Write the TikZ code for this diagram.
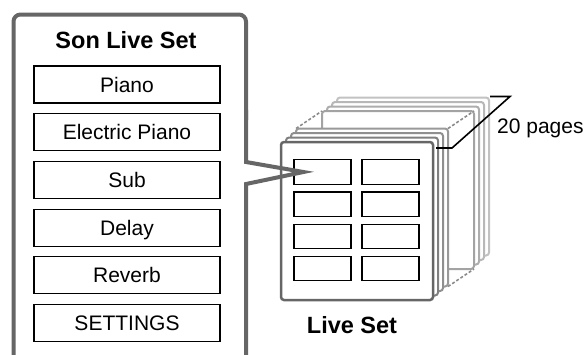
\documentclass[tikz,border=0pt]{standalone}
\usepackage{fontspec}
\setmainfont{Liberation Sans}
\usetikzlibrary{calc}
\definecolor{panelgray}{HTML}{666666}
\begin{document}
\begin{tikzpicture}[x=1pt,y=-1pt,
  panel/.style={draw=panelgray, line width=4pt},
  item/.style={draw=black, line width=1.2pt, minimum width=186pt, minimum height=37pt,
    inner sep=0pt, font=\fontsize{21}{25}\selectfont, text height=15pt, text depth=0pt},
  slot/.style={draw=black, line width=1.2pt, minimum width=57pt, minimum height=24.5pt, inner sep=0pt},
  page/.style={fill=white, line width=2pt, rounded corners=3pt},
  titletext/.style={font=\fontsize{23.5}{28}\selectfont\bfseries, inner sep=0pt},
  labeltext/.style={font=\fontsize{21}{25}\selectfont, inner sep=0pt},
  leader/.style={draw=black, line width=1.6pt},
  gap/.style={draw=black!45, line width=1.6pt, dash pattern=on 3pt off 2pt}]
\useasboundingbox (0,0) rectangle (585,354);

% ---- left panel: Son Live Set ----
\node[titletext, anchor=base] (title) at (126,48.3) {Son Live Set};
\foreach \t [count=\i from 0] in {Piano,Electric Piano,Sub,Delay,Reverb,SETTINGS}{
  \node[item] (item\i) at (127,84.5+47.7*\i) {\t};
}

% ---- Live Set stack ----
% back group
\foreach \dx/\dy/\c in {56/-44.5/24,51/-40/28,46/-35.5/32,41/-31/36}{
  \draw[page, draw=black!\c] (281+\dx,142+\dy) rectangle (433+\dx,300+\dy);
}
\draw[gap] (296,128.5) -- (322,111);
\draw[gap] (448,128.5) -- (474,111);
\draw[gap] (448,286.5) -- (474,269);
% front group
\foreach \dx/\dy/\c in {15/-13.5/40,10/-9/44,5/-4.5/50}{
  \draw[page, draw=black!\c] (281+\dx,142+\dy) rectangle (433+\dx,300+\dy);
}
\draw[page, draw=panelgray, line width=2.5pt] (281,142) rectangle (433,300);

\foreach \r in {0,1,2,3}{
  \node[slot] (a\r) at (322.5,172+32.2*\r) {};
  \node[slot] (b\r) at (390.5,172+32.2*\r) {};
}
\node[titletext, anchor=base] (liveset) at (352,333) {Live Set};

% ---- 20 pages leader ----
\node[labeltext, anchor=base west] (pages) at (497,133) {20 pages};
\coordinate (l0) at (436,148);
\coordinate (l1) at (452,148);
\coordinate (l2) at (510,96.5);
\coordinate (l3) at (490,96.5);
\draw[leader] (l0) -- (l1) -- (l2) -- (l3);

% ---- panel border with callout wedge ----
\coordinate (tip) at ($(a0.west)+(10,0)$);
\draw[panel, rounded corners=7pt] (13.5,364) -- (13.5,14.5) -- (246,14.5) -- (246,120);
\draw[panel] (246,110) -- (246,162) -- (tip) -- (246,184) -- (246,364);
\end{tikzpicture}
\end{document}
